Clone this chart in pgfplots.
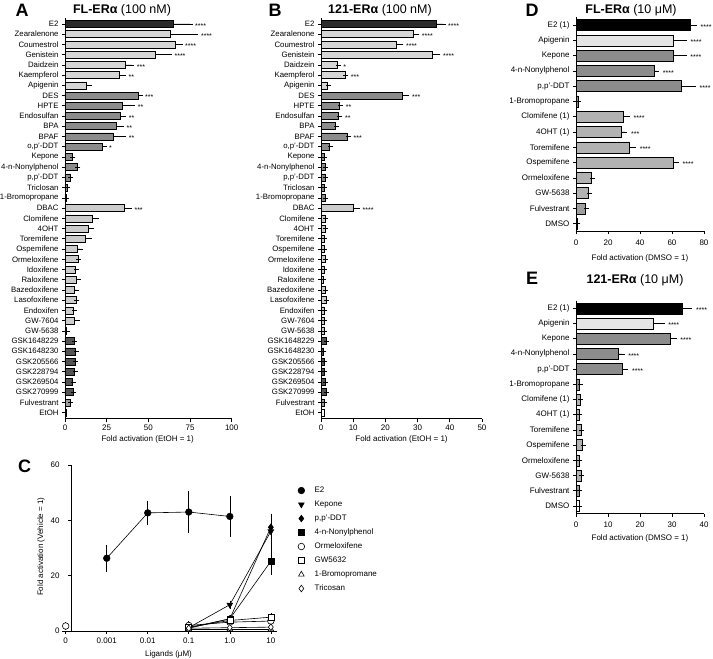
\documentclass[border=0pt]{standalone}
\usepackage{fontspec}
\setmainfont{Liberation Sans}
\usepackage{pgfplots}
\pgfplotsset{compat=1.18}

\definecolor{cDark}{gray}{0.17}
\definecolor{cLt}{gray}{0.84}
\definecolor{cMid}{gray}{0.55}
\definecolor{cLt2}{gray}{0.80}
\definecolor{cGsk}{gray}{0.33}
\definecolor{cFul}{gray}{0.62}
\definecolor{cApi}{gray}{0.90}
\definecolor{cSerm}{gray}{0.70}

\pgfplotsset{
  hbar/.style={scale only axis, anchor=south west, y dir=reverse, xmin=0,
    axis x line*=bottom, axis y line*=left,
    axis line style={line width=0.8pt, -},
    tick align=outside, major tick length=3pt,
    every tick/.style={black, line width=0.6pt},
    tick label style={font=\fontsize{8}{9}\selectfont},
    /pgf/number format/assume math mode=true,
    clip=false},
  hb/.style={xbar, bar width=#1, draw=black, line width=0.5pt,
    error bars/x dir=plus, error bars/x explicit,
    error bars/error bar style={line width=0.6pt, black},
    error bars/error mark options={line width=0.6pt, black, mark size=2.5pt}},
  stars/.style={draw=none, mark=none, forget plot, nodes near coords,
    point meta=explicit symbolic, nodes near coords align={horizontal},
    nodes near coords style={anchor=west, inner sep=0pt, xshift=#1, yshift=-1.8pt,
      font=\fontsize{7}{7}\selectfont}},
}

\begin{document}
\begin{tikzpicture}
\useasboundingbox (0,0) rectangle (713pt,659pt);

% ---------------- Panel A ----------------
\begin{axis}[hbar, at={(65pt,240.2pt)}, width=166.7pt, height=401pt,
  xmax=100, xtick={0,25,50,75,100}, ymin=-0.6, ymax=38.6, ytick={0,...,38},
  yticklabel style={font=\fontsize{7.8}{9}\selectfont},
  yticklabels={E2,Zearalenone,Coumestrol,Genistein,Daidzein,Kaempferol,Apigenin,DES,HPTE,Endosulfan,BPA,BPAF,{o,p'-DDT},Kepone,4-n-Nonylphenol,{p,p'-DDT},Triclosan,1-Bromopropane,DBAC,Clomifene,4OHT,Toremifene,Ospemifene,Ormeloxifene,Idoxifene,Raloxifene,Bazedoxifene,Lasofoxifene,Endoxifen,GW-7604,GW-5638,GSK1648229,GSK1648230,GSK205566,GSK228794,GSK269504,GSK270999,Fulvestrant,EtOH}]
\addplot[hb=7pt, fill=cDark] table[x=v,y=i,x error=e] {
i v e
0 65 10
};
\addplot[hb=7pt, fill=cLt] table[x=v,y=i,x error=e] {
i v e
1 63 15.5
2 66 3
3 54 8.6
4 36 4
5 32.5 2.5
6 13 1.4
};
\addplot[hb=7pt, fill=cMid] table[x=v,y=i,x error=e] {
i v e
7 44 1
8 34.6 6
9 33.2 2
10 31 2.8
11 29.2 6
12 22.4 1
13 4.4 0.3
14 7.4 0.3
15 3.2 0.3
16 1.2 0.3
17 0.6 0.2
};
\addplot[hb=7pt, fill=cLt2] table[x=v,y=i,x error=e] {
i v e
18 35.6 3
19 16.4 2.2
20 14.2 1.4
21 12.2 2.2
22 7.4 1.6
23 7.8 0.4
24 6.4 0.6
25 6.8 1.2
26 5.6 1.2
27 6.6 0.4
28 5.2 0.4
29 5.8 1.8
30 1 0.3
};
\addplot[hb=7pt, fill=cGsk] table[x=v,y=i,x error=e] {
i v e
31 5.6 0.2
32 6.4 0.2
33 6 0.2
34 5.8 0.2
35 4.6 0.2
36 5 0.2
};
\addplot[hb=7pt, fill=cFul] table[x=v,y=i,x error=e] {
i v e
37 3 0.5
};
\addplot[hb=7pt, fill=white] table[x=v,y=i,x error=e] {
i v e
38 1 0
};
\addplot[stars=5pt] table[x=x,y=y,meta=s] {
x y s
75 0 ****
78.5 1 ****
69 2 ****
62.6 3 ****
40 4 ***
35 5 **
45 7 ***
40.6 8 **
35.2 9 **
33.8 10 **
35.2 11 **
23.4 12 *
38.6 18 ***
};
\end{axis}

% ---------------- Panel B ----------------
\begin{axis}[hbar, at={(321pt,240.2pt)}, width=161pt, height=401pt,
  xmax=50, xtick={0,10,...,50}, ymin=-0.6, ymax=38.6, ytick={0,...,38},
  yticklabel style={font=\fontsize{7.8}{9}\selectfont},
  yticklabels={E2,Zearalenone,Coumestrol,Genistein,Daidzein,Kaempferol,Apigenin,DES,HPTE,Endosulfan,BPA,BPAF,{o,p'-DDT},Kepone,4-n-Nonylphenol,{p,p'-DDT},Triclosan,1-Bromopropane,DBAC,Clomifene,4OHT,Toremifene,Ospemifene,Ormeloxifene,Idoxifene,Raloxifene,Bazedoxifene,Lasofoxifene,Endoxifen,GW-7604,GW-5638,GSK1648229,GSK1648230,GSK205566,GSK228794,GSK269504,GSK270999,Fulvestrant,EtOH}]
\addplot[hb=7pt, fill=cDark] table[x=v,y=i,x error=e] {
i v e
0 35.7 2.2
};
\addplot[hb=7pt, fill=cLt] table[x=v,y=i,x error=e] {
i v e
1 28.5 1.2
2 23.4 1.4
3 34.5 1.8
4 4.9 0.4
5 7.5 0.2
6 2 0.2
};
\addplot[hb=7pt, fill=cMid] table[x=v,y=i,x error=e] {
i v e
7 25.3 1.4
8 5.6 0.5
9 5.3 0.6
10 4.5 0.2
11 8 0.5
12 2.6 0.2
13 0.9 0.1
14 1.3 0.1
15 1.3 0.1
16 0.9 0.1
17 1.2 0.1
};
\addplot[hb=7pt, fill=cLt2] table[x=v,y=i,x error=e] {
i v e
18 10 1.3
19 1.3 0.1
20 1.3 0.1
21 1.0 0.1
22 1.0 0.1
23 1.3 0.1
24 0.9 0.1
25 0.8 0.1
26 1.4 0.1
27 1.5 0.1
28 1.1 0.1
29 1.0 0.1
30 1.0 0.1
};
\addplot[hb=7pt, fill=cGsk] table[x=v,y=i,x error=e] {
i v e
31 1.6 0.1
32 0.8 0.1
33 1.0 0.1
34 1.0 0.1
35 1.3 0.1
36 1.5 0.1
};
\addplot[hb=7pt, fill=cFul] table[x=v,y=i,x error=e] {
i v e
37 1.1 0.1
};
\addplot[hb=7pt, fill=white] table[x=v,y=i,x error=e] {
i v e
38 1.0 0
};
\addplot[stars=5pt] table[x=x,y=y,meta=s] {
x y s
37.9 0 ****
29.7 1 ****
24.8 2 ****
36.3 3 ****
5.3 4 *
7.7 5 ***
26.7 7 ***
6.1 8 **
5.9 9 **
8.5 11 ***
11.3 18 ****
};
\end{axis}

% ---------------- Panel D ----------------
\begin{axis}[hbar, at={(576pt,427.7pt)}, width=128pt, height=213.9pt,
  xmax=80, xtick={0,20,...,80}, ymin=-0.5, ymax=13.5, ytick={0,...,13},
  xticklabel style={yshift=-2pt},
  yticklabels={E2 (1),Apigenin,Kepone,4-n-Nonylphenol,{p,p'-DDT},1-Bromopropane,Clomifene (1),4OHT (1),Toremifene,Ospemifene,Ormeloxifene,GW-5638,Fulvestrant,DMSO}]
\addplot[hb=11pt, fill=black] table[x=v,y=i,x error=e] {
i v e
0 71.3 2.7
};
\addplot[hb=11pt, fill=cApi] table[x=v,y=i,x error=e] {
i v e
1 60.6 7.2
};
\addplot[hb=11pt, fill=cMid] table[x=v,y=i,x error=e] {
i v e
2 61 6.6
3 48.8 1.6
4 65.5 7.9
5 1.4 0.3
};
\addplot[hb=11pt, fill=cSerm] table[x=v,y=i,x error=e] {
i v e
6 29.8 2.4
7 28.5 2.1
8 33.3 2.7
9 60.6 2.2
10 9.3 0.7
11 7.9 0.8
};
\addplot[hb=11pt, fill=cFul] table[x=v,y=i,x error=e] {
i v e
12 6 0.3
};
\addplot[hb=11pt, fill=white] table[x=v,y=i,x error=e] {
i v e
13 1 0.1
};
\addplot[stars=6pt] table[x=x,y=y,meta=s] {
x y s
74 0 ****
67.8 1 ****
67.6 2 ****
50.4 3 ****
73.4 4 ****
32.2 6 ****
30.6 7 ***
36 8 ****
62.8 9 ****
};
\end{axis}

% ---------------- Panel E ----------------
\begin{axis}[hbar, at={(576pt,145.4pt)}, width=128pt, height=212.9pt,
  xmax=40, xtick={0,10,...,40}, ymin=-0.5, ymax=13.5, ytick={0,...,13},
  xticklabel style={yshift=-2pt},
  yticklabels={E2 (1),Apigenin,Kepone,4-n-Nonylphenol,{p,p'-DDT},1-Bromopropane,Clomifene (1),4OHT (1),Toremifene,Ospemifene,Ormeloxifene,GW-5638,Fulvestrant,DMSO}]
\addplot[hb=11pt, fill=black] table[x=v,y=i,x error=e] {
i v e
0 33.3 2.3
};
\addplot[hb=11pt, fill=cApi] table[x=v,y=i,x error=e] {
i v e
1 24 2.9
};
\addplot[hb=11pt, fill=cMid] table[x=v,y=i,x error=e] {
i v e
2 29.4 1.3
3 13.3 1.1
4 14.3 1.3
5 1.1 0.2
};
\addplot[hb=11pt, fill=cSerm] table[x=v,y=i,x error=e] {
i v e
6 1.2 0.2
7 0.9 0.1
8 1.6 0.2
9 2.0 0.3
10 1.0 0.1
11 1.6 0.1
};
\addplot[hb=11pt, fill=cFul] table[x=v,y=i,x error=e] {
i v e
12 0.9 0.2
};
\addplot[hb=11pt, fill=white] table[x=v,y=i,x error=e] {
i v e
13 1.0 0.1
};
\addplot[stars=6pt] table[x=x,y=y,meta=s] {
x y s
35.6 0 ****
26.9 1 ****
30.7 2 ****
14.4 3 ****
15.6 4 ****
};
\end{axis}

% ---------------- Panel C ----------------
\begin{axis}[scale only axis, anchor=south west, at={(62pt,28pt)},
  width=215pt, height=166pt, xmin=-0.09, xmax=5.15, ymin=0, ymax=60,
  axis x line*=bottom, axis y line*=left, axis y line shift=-9pt,
  axis line style={line width=0.8pt, -},
  tick align=outside, major tick length=3pt,
  every tick/.style={black, line width=0.6pt},
  tick label style={font=\fontsize{8}{9}\selectfont},
  yticklabel style={xshift=-5pt},
  /pgf/number format/assume math mode=true,
  xtick={0,...,5}, xticklabels={0,0.001,0.01,0.1,1.0,10},
  ytick={0,20,40,60}, clip=false,
  legend style={at={(1.097,0.551)}, anchor=west, draw=none, fill=none,
    inner sep=0pt, row sep=6.5pt, column sep=10pt,
    font=\fontsize{8}{9}\selectfont,
    nodes={text height=6pt, text depth=1.5pt, inner sep=0pt}},
  legend cell align=left,
  legend image code/.code={\draw[#1] plot coordinates {(0pt,0pt)};},
  every axis plot/.append style={black, line width=0.6pt, mark size=3.3pt,
    error bars/y dir=both, error bars/y explicit,
    error bars/error bar style={line width=0.6pt, black},
    error bars/error mark options={line width=0.6pt, black, mark size=4pt}}]
\addplot[mark=*, mark options={fill=black}] coordinates {
(1,26.3) +- (0,3.4)
(2,42.7) +- (0,3)
(3,43) +- (0,6)
(4,41.4) +- (0,5.9)
};
\addlegendentry{E2}
\addplot[mark=triangle*, mark options={fill=black, rotate=180}] coordinates {
(3,1.2) +- (0,0)
(4,9.5) +- (0,0)
(5,36) +- (0,5)
};
\addlegendentry{Kepone}
\addplot[mark=diamond*, mark options={fill=black}] coordinates {
(3,1) +- (0,0)
(4,4.4) +- (0,0)
(5,37.5) +- (0,2.8)
};
\addlegendentry{p,p'-DDT}
\addplot[mark=square*, mark size=3pt, mark options={fill=black}] coordinates {
(3,1.2) +- (0,0)
(4,4.4) +- (0,0)
(5,25.2) +- (0,3.4)
};
\addlegendentry{4-n-Nonylphenol}
\addplot[mark=*, mark options={fill=white}] coordinates {
(3,2) +- (0,0)
(4,3.2) +- (0,0)
(5,3.6) +- (0,0)
};
\addlegendentry{Ormeloxifene}
\addplot[mark=square*, mark size=3pt, mark options={fill=white}] coordinates {
(3,1.4) +- (0,0)
(4,3.8) +- (0,0)
(5,5) +- (0,0)
};
\addlegendentry{GW5632}
\addplot[mark=triangle*, mark options={fill=white}] coordinates {
(3,0.6) +- (0,0)
(4,0.6) +- (0,0)
(5,0.6) +- (0,0)
};
\addlegendentry{1-Bromopromane}
\addplot[mark=diamond*, mark options={fill=white}] coordinates {
(3,1) +- (0,0)
(4,1.2) +- (0,0)
(5,1.4) +- (0,0)
};
\addlegendentry{Tricosan}
\addplot[only marks, mark=*, mark options={fill=white}, forget plot] coordinates {
(0,1.8) +- (0,0)
};
\end{axis}

% ---------------- Text ----------------
\node[font=\fontsize{18}{18}\selectfont\bfseries] at (22pt,648.5pt) {A};
\node[font=\fontsize{18}{18}\selectfont\bfseries] at (275pt,648.5pt) {B};
\node[font=\fontsize{18}{18}\selectfont\bfseries] at (532pt,648.5pt) {D};
\node[font=\fontsize{18}{18}\selectfont\bfseries] at (532pt,380.3pt) {E};
\node[font=\fontsize{18}{18}\selectfont\bfseries] at (24.5pt,193pt) {C};
\node[font=\fontsize{12.5}{14}\selectfont] at (122pt,649pt) {\textbf{FL-ERα} (100 nM)};
\node[font=\fontsize{12.5}{14}\selectfont] at (380pt,649pt) {\textbf{121-ERα} (100 nM)};
\node[font=\fontsize{12.5}{14}\selectfont] at (631pt,649pt) {\textbf{FL-ERα} (10 μM)};
\node[font=\fontsize{12.5}{14}\selectfont] at (635pt,379pt) {\textbf{121-ERα} (10 μM)};
\node[font=\fontsize{8}{9}\selectfont] at (147.7pt,219.7pt) {Fold activation (EtOH = 1)};
\node[font=\fontsize{8}{9}\selectfont] at (401.5pt,219.7pt) {Fold activation (EtOH = 1)};
\node[font=\fontsize{8}{9}\selectfont] at (640pt,400.3pt) {Fold activation (DMSO = 1)};
\node[font=\fontsize{8}{9}\selectfont] at (640pt,120.7pt) {Fold activation (DMSO = 1)};
\node[font=\fontsize{8}{9}\selectfont] at (168.5pt,4.5pt) {Ligands (μM)};
\node[font=\fontsize{8}{9}\selectfont, rotate=90] at (41pt,112.3pt) {Fold activation (Vehicle = 1)};
\end{tikzpicture}
\end{document}
